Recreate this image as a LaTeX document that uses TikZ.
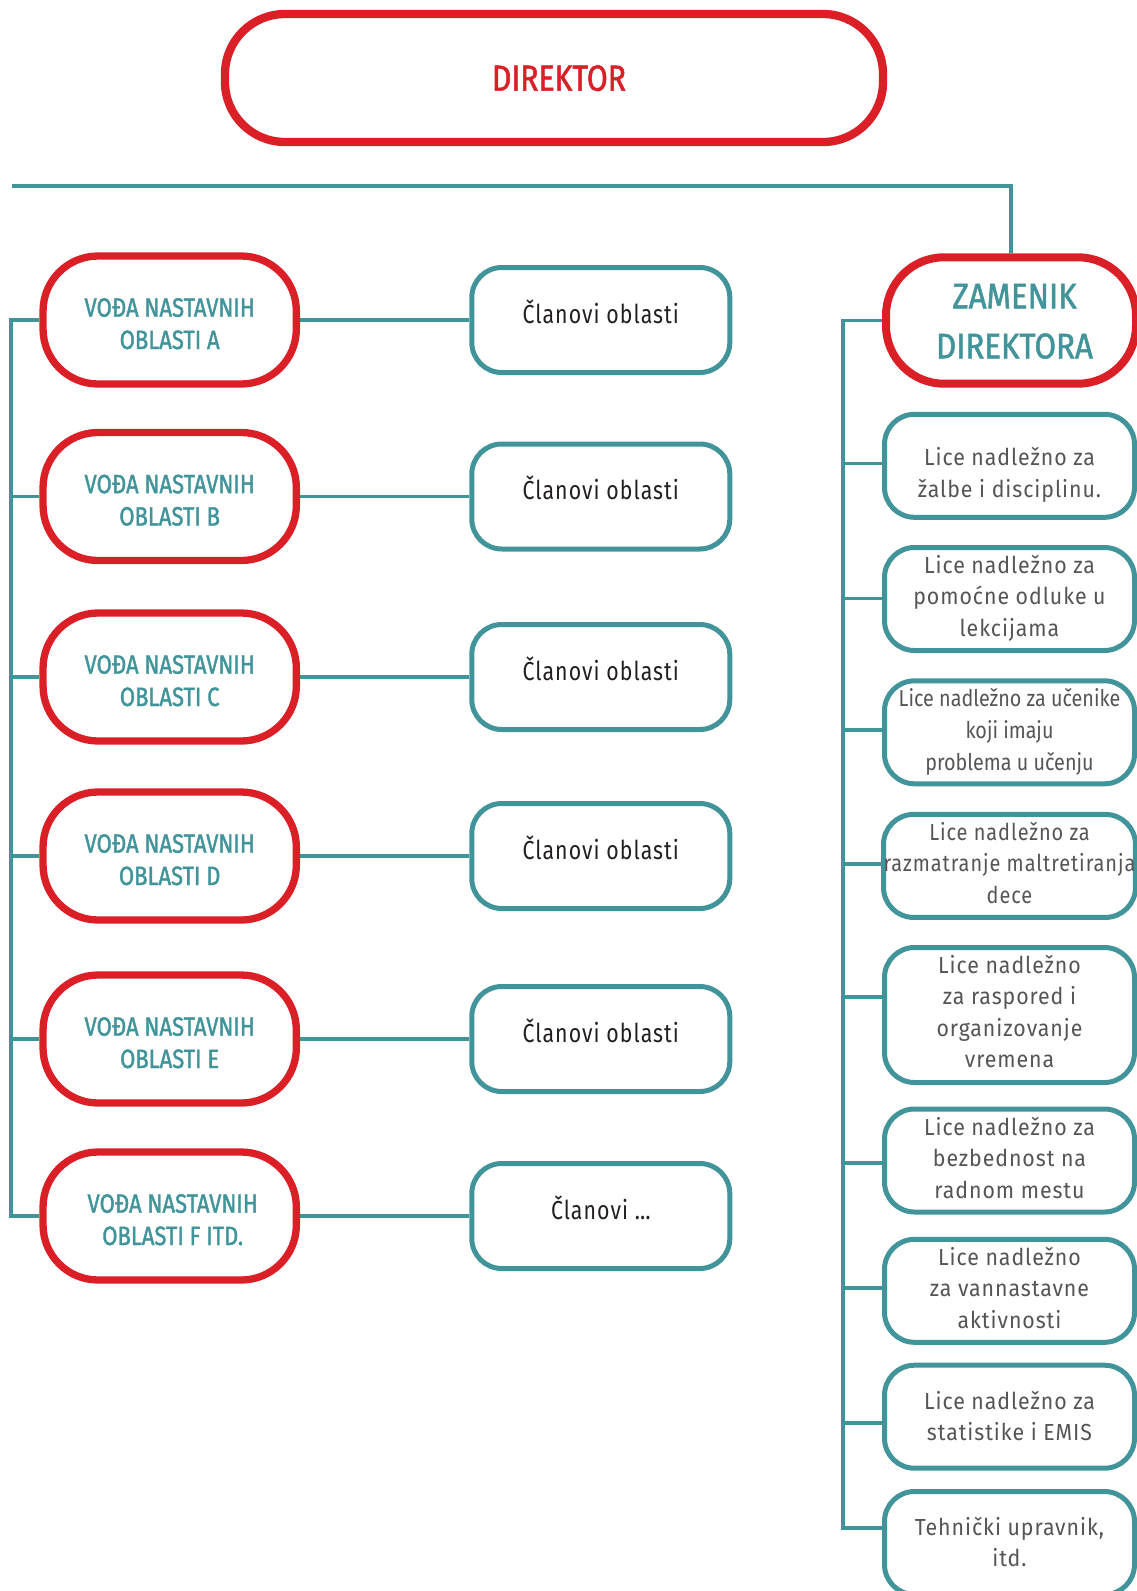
\documentclass[tikz,border=0pt]{standalone}
\usepackage{fontspec}
\setmainfont{Fira Sans}
\newfontfamily\headfont[FakeStretch=0.83,FakeBold=1.5]{Fira Sans}
\newfontfamily\zamfont[FakeStretch=0.88,FakeBold=1.5]{Fira Sans}
\newfontfamily\bodyfont[FakeStretch=0.92,LetterSpace=4]{Fira Sans}
\newfontfamily\bodyfontb[FakeStretch=0.86,LetterSpace=4]{Fira Sans}
\newfontfamily\memfont[FakeStretch=0.82,LetterSpace=4]{Fira Sans}
\newfontfamily\narrowfont[FakeStretch=0.86]{Fira Sans}
\definecolor{rd}{HTML}{DA1F26}
\definecolor{tl}{HTML}{41959A}
\definecolor{gr}{HTML}{555555}
\definecolor{bk}{HTML}{231F20}
\newcommand{\tb}[2]{\raisebox{#1}[0pt][0pt]{\begin{tabular}[t]{@{}c@{}}#2\end{tabular}}}
\begin{document}
\begin{tikzpicture}[x=1pt,y=-1pt,
 link/.style={draw=tl,line width=3.8pt},
 dirbox/.style={draw=rd,fill=white,line width=8.3pt,rounded corners=60pt,minimum width=658pt,minimum height=128pt,inner sep=0pt,text=rd,font=\headfont\fontsize{36.3}{40}\selectfont},
 zambox/.style={draw=rd,fill=white,line width=8pt,rounded corners=58pt,minimum width=250pt,minimum height=126.4pt,inner sep=0pt,text=tl,font=\zamfont\fontsize{35.5}{50}\selectfont},
 leadbox/.style={draw=rd,fill=white,line width=7.3pt,rounded corners=55pt,minimum width=253.3pt,minimum height=128pt,inner sep=0pt,text=tl,font=\headfont\fontsize{26.5}{32.3}\selectfont},
 membox/.style={draw=tl,fill=white,line width=5pt,rounded corners=30pt,minimum width=258pt,minimum height=105pt,inner sep=0pt,text=bk,font=\memfont\fontsize{26}{30}\selectfont},
 dutybox/.style={draw=tl,fill=white,line width=5pt,rounded corners=30pt,minimum width=250pt,minimum height=103pt,inner sep=0pt,text=gr,font=\bodyfont\fontsize{23.2}{31.5}\selectfont},
]
\useasboundingbox (0,0) rectangle (1137,1591);

% director
\node[dirbox] (dir) at (554,78) {\tb{-12.7pt}{\hspace*{10pt}DIREKTOR}};

% leaders
\node[leadbox] (L1) at (169.7,320)   {\tb{3.3pt}{VOĐA NASTAVNIH\\OBLASTI A}};
\node[leadbox] (L2) at (169.7,496.5) {\tb{3.3pt}{VOĐA NASTAVNIH\\OBLASTI B}};
\node[leadbox] (L3) at (169.7,677)   {\tb{3.3pt}{VOĐA NASTAVNIH\\OBLASTI C}};
\node[leadbox] (L4) at (169.7,856)   {\tb{3.3pt}{VOĐA NASTAVNIH\\OBLASTI D}};
\node[leadbox] (L5) at (169.7,1039)  {\tb{3.3pt}{VOĐA NASTAVNIH\\OBLASTI E}};
\node[leadbox] (L6) at (169.7,1216)  {\tb{3.3pt}{\hspace*{6pt}VOĐA NASTAVNIH\\\hspace*{6pt}OBLASTI F ITD.}};

% members
\node[membox] (M1) at (600.8,320)   {\tb{-3.3pt}{Članovi oblasti}};
\node[membox] (M2) at (600.8,496.5) {\tb{-3.3pt}{Članovi oblasti}};
\node[membox] (M3) at (600.8,677)   {\tb{-3.3pt}{Članovi oblasti}};
\node[membox] (M4) at (600.8,856)   {\tb{-3.3pt}{Članovi oblasti}};
\node[membox] (M5) at (600.8,1039)  {\tb{-3.3pt}{Članovi oblasti}};
\node[membox] (M6) at (600.8,1216)  {\tb{-3.3pt}{Članovi …}};

% deputy
\node[zambox] (zam) at (1011,320.5) {\tb{12.2pt}{\hspace*{7pt}ZAMENIK\\\hspace*{7pt}DIREKTORA}};

% duties
\node[dutybox] (R1) at (1009.5,465.8) {\tb{0pt}{Lice nadležno za\\žalbe i disciplinu.}};
\node[dutybox] (R2) at (1009.5,599)   {\tb{25.7pt}{Lice nadležno za\\pomoćne odluke u\\lekcijama}};
\node[dutybox,font=\narrowfont\fontsize{23}{32}\selectfont] (R3) at (1009.5,732.3) {\tb{26.3pt}{Lice nadležno za učenike\\koji imaju\\problema u učenju}};
\node[dutybox,font=\bodyfontb\fontsize{23.2}{31.5}\selectfont] (R4) at (1009.5,865.9) {\tb{25.9pt}{Lice nadležno za\\razmatranje maltretiranja\\dece}};
\node[dutybox,minimum height=135pt] (R5) at (1009.5,1015) {\tb{41.7pt}{Lice nadležno\\za raspored i\\organizovanje\\vremena}};
\node[dutybox] (R6) at (1009.5,1160.5) {\tb{25.5pt}{Lice nadležno za\\bezbednost na\\radnom mestu}};
\node[dutybox] (R7) at (1009.5,1290.8) {\tb{25.8pt}{Lice nadležno\\za vannastavne\\aktivnosti}};
\node[dutybox] (R8) at (1009.5,1416.7) {\tb{7.4pt}{Lice nadležno za\\statistike i EMIS}};
\node[dutybox] (R9) at (1009.5,1543)   {\tb{8pt}{Tehnički upravnik,\\itd.}};

% top connector
\coordinate (tl) at (12,186);
\coordinate (tr) at (1011,186);
\draw[link] (tl) -- (tr) -- (zam.north);

% left bus
\coordinate (lbus) at (11.3,0);
\draw[link] (L1.west) -- (lbus |- L1.west) -- (lbus |- L6.west) -- (L6.west);
\foreach \i in {2,...,5} \draw[link] (lbus |- L\i.west) -- (L\i.west);
\foreach \i in {1,...,6} \draw[link] (L\i.east) -- (M\i.west);

% right bus
\coordinate (c1) at (843,463.5);
\coordinate (c2) at (843,598.4);
\coordinate (c3) at (843,730);
\coordinate (c4) at (843,864);
\coordinate (c5) at (843,997);
\coordinate (c6) at (843,1163.3);
\coordinate (c7) at (843,1288.3);
\coordinate (c8) at (843,1422.7);
\coordinate (c9) at (843,1528.3);
\draw[link] (zam.west) -- (c9 |- zam.west) -- (c9) -- (c9 -| R9.west);
\foreach \i in {1,...,8} \draw[link] (c\i) -- (c\i -| R\i.west);
\end{tikzpicture}
\end{document}
